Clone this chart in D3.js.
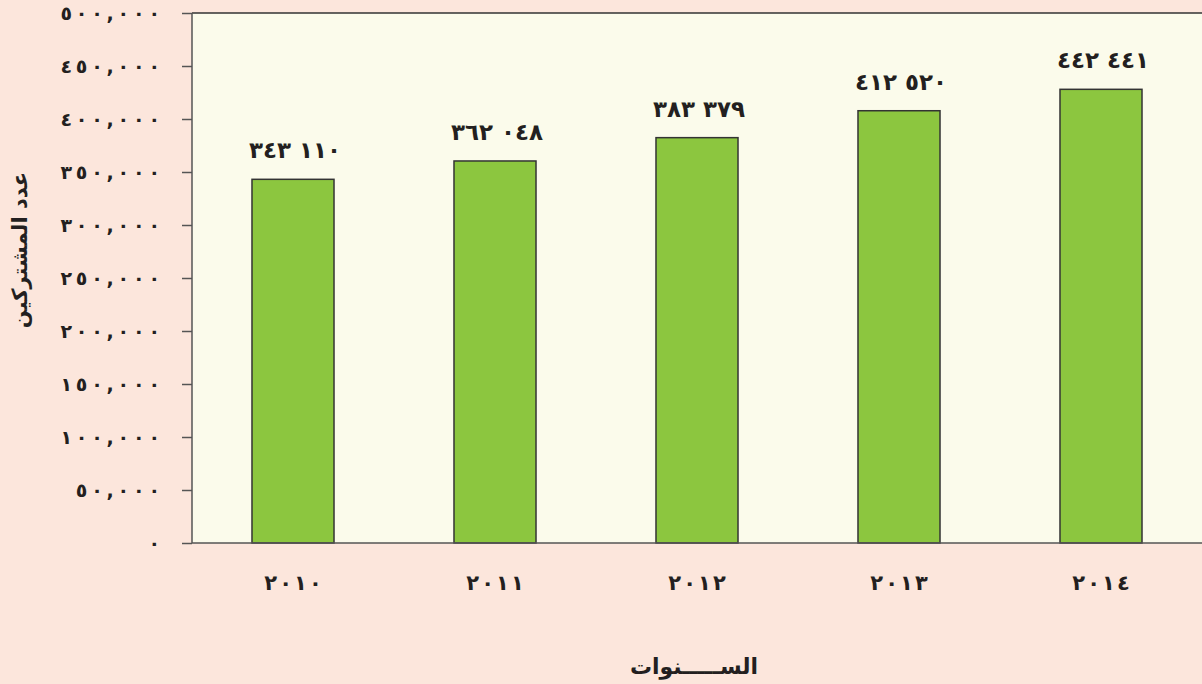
<!DOCTYPE html>
<html><head><meta charset="utf-8">
<script src="https://cdn.jsdelivr.net/npm/d3@7"></script>
<style>
html,body{margin:0;padding:0;background:#fce6dc;}
svg{display:block;}
text{font-family:"DejaVu Sans",sans-serif;font-weight:bold;fill:#231f20;}
.num{unicode-bidi:bidi-override;direction:ltr;}
</style></head>
<body>
<svg id="c" width="1202" height="684"></svg>
<script>
const years = ["2010", "2011", "2012", "2013", "2014"];
// values printed above the bars
const labelValues = [343110, 362048, 383379, 412520, 442441];
// bar heights as drawn in the picture
const barValues = [343100, 360400, 382400, 407800, 428000];
const yTicks = [0, 50000, 100000, 150000, 200000, 250000, 300000, 350000, 400000, 450000, 500000];
const yTitle = "عدد المشتركين";
const xTitle = "الســـــنوات";

const ar = s => String(s).replace(/[0-9]/g, d => "٠١٢٣٤٥٦٧٨٩"[+d]);
const spread = (s, sp) => Array.from(s).join(sp);
const W = 1202, H = 684;
const m = {left: 192, top: 13, bottom: 543};
const svg = d3.select("#c");
svg.append("rect").attr("width", W).attr("height", H).attr("fill", "#fce6dc");

const y = d3.scaleLinear().domain([0, 500000]).range([m.bottom, m.top]);
const x = d3.scaleBand().domain(years).range([m.left, W]).paddingInner(0.594).paddingOuter(0.297);

svg.append("rect").attr("x", m.left).attr("y", m.top).attr("width", W - m.left).attr("height", m.bottom - m.top).attr("fill", "#fbfbeb");

// y axis
const yAxis = d3.axisLeft(y).tickValues(yTicks).tickSize(10).tickPadding(22)
  .tickFormat(d => spread(ar(d3.format(",")(d)), "\u2009"));
const gy = svg.append("g").attr("transform", `translate(${m.left},0)`).call(yAxis);
gy.select(".domain").remove();
gy.selectAll(".tick line").attr("stroke", "#555").attr("stroke-width", 1.5);
gy.selectAll(".tick text").attr("class", "num").attr("font-size", 19).attr("fill", "#231f20")
  .attr("font-family", "DejaVu Sans").attr("font-weight", "bold");

// bars
svg.append("g").selectAll("rect").data(years).join("rect")
  .attr("x", d => x(d)).attr("width", x.bandwidth())
  .attr("y", (d, i) => y(barValues[i])).attr("height", (d, i) => y(0) - y(barValues[i]))
  .attr("fill", "#8cc63f").attr("stroke", "#333").attr("stroke-width", 1.5);

// value labels
svg.append("g").selectAll("text").data(years).join("text")
  .attr("class", "num")
  .attr("x", d => x(d) + x.bandwidth() / 2 + 2)
  .attr("y", (d, i) => y(barValues[i]) - 21)
  .attr("text-anchor", "middle").attr("font-size", 23)
  .text((d, i) => ar(d3.format(",")(labelValues[i]).replace(/,/g, " ")));

// frame lines
svg.append("line").attr("x1", m.left).attr("x2", W).attr("y1", m.top).attr("y2", m.top).attr("stroke", "#333").attr("stroke-width", 1.5);
svg.append("line").attr("x1", m.left).attr("x2", m.left).attr("y1", m.top).attr("y2", m.bottom).attr("stroke", "#555").attr("stroke-width", 1.5);

// x axis
const xAxis = d3.axisBottom(x).tickSize(0).tickPadding(32).tickFormat(d => spread(ar(d), "\u200A"));
const gx = svg.append("g").attr("transform", `translate(0,${m.bottom})`).call(xAxis);
gx.select(".domain").attr("d", `M${m.left},0H${W}`).attr("stroke", "#555").attr("stroke-width", 1.5);
gx.selectAll(".tick text").attr("class", "num").attr("font-size", 21).attr("fill", "#231f20")
  .attr("font-family", "DejaVu Sans").attr("font-weight", "bold");

// titles
svg.append("text").attr("transform", "translate(27,250) rotate(-90)").attr("text-anchor", "middle")
  .attr("font-size", 21).text(yTitle);
svg.append("text").attr("x", 694).attr("y", 674).attr("text-anchor", "middle")
  .attr("font-size", 22).text(xTitle);
</script>
</body></html>
